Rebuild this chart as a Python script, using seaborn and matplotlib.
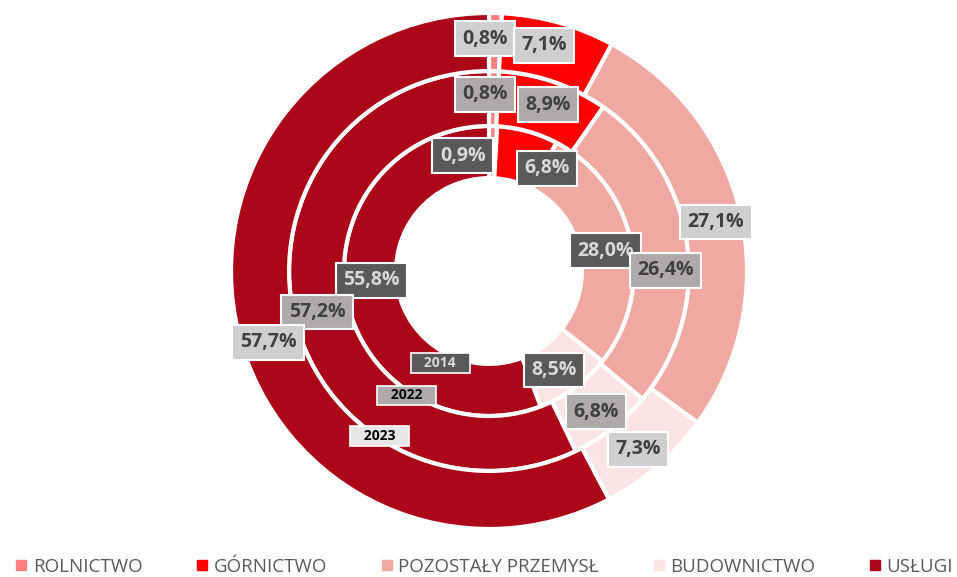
import numpy as np
import seaborn as sns
import matplotlib.pyplot as plt
from matplotlib.lines import Line2D

categories = ["ROLNICTWO", "GÓRNICTWO", "POZOSTAŁY PRZEMYSŁ", "BUDOWNICTWO", "USŁUGI"]
years = ["2014", "2022", "2023"]
share_2014 = [0.9, 6.8, 28.0, 8.5, 55.8]
share_2022 = [0.8, 8.9, 26.4, 6.8, 57.2]
share_2023 = [0.8, 7.1, 27.1, 7.3, 57.7]

sns.set_theme(style="white")
plt.rcParams['font.family'] = ['Open Sans', 'DejaVu Sans']

colors = ["#FF8080", "#FF0000", "#F0A8A2", "#FCE4E4", "#AB0718"]

# ring geometry (radius 1 = outer edge)
rings = [
    # values, outer r, width, label r, box color, text color, label angle nudges (deg)
    (share_2014, 0.562, 0.202, 0.458, "#595959", "#D9D9D9", [-14.5, 14.0, 2.0, 3.0, 6.0]),
    (share_2022, 0.775, 0.213, 0.685, "#AEAAAA", "#404040", [-2.7, 0.7, 7.3, 0.5, -0.8]),
    (share_2023, 1.0, 0.225, 0.9, "#D0CECE", "#404040", [-2.4, -2.0, 0.6, 1.0, -4.0]),
]
year_box = [("#595959", "#D9D9D9"), ("#AEAAAA", "black"), ("#E7E6E6", "black")]
year_pos = [(0.403, 208), (0.578, 213.5), (0.768, 213.5)]

fig = plt.figure(figsize=(9.57, 5.77), dpi=100)
cx, cy, R = 489, 271, 258
ax = fig.add_axes([(cx - R) / 957, (577 - cy - R) / 577, 2 * R / 957, 2 * R / 577])

for i, (vals, r_out, w, r_lab, bc, tc, nudge) in enumerate(rings):
    ax.pie(vals, radius=r_out, startangle=90, counterclock=False, colors=colors,
           wedgeprops=dict(width=w, edgecolor="white", linewidth=3))
    cum = np.cumsum([0] + vals[:-1])
    for j, v in enumerate(vals):
        ang = (cum[j] + v / 2) / 100 * 360 + nudge[j]
        t = np.deg2rad(ang)
        ax.text(r_lab * np.sin(t), r_lab * np.cos(t), f"{v:.1f}%".replace(".", ","),
                ha="center", va="center", fontsize=14, fontweight="bold", color=tc,
                bbox=dict(boxstyle="square,pad=0.38", facecolor=bc, edgecolor="white", linewidth=1.5))
    # year label
    yr, ya = year_pos[i]
    t = np.deg2rad(ya)
    yb, yt = year_box[i]
    ax.text(yr * np.sin(t), yr * np.cos(t), f"   {years[i]}   ",
            ha="center", va="center", fontsize=10, fontweight="bold", color=yt,
            bbox=dict(boxstyle="square,pad=0.2", facecolor=yb, edgecolor="white", linewidth=1.2),
            zorder=5)

ax.set_xlim(-1, 1)
ax.set_ylim(-1, 1)
ax.set_aspect("auto")
ax.axis("off")

handles = [Line2D([0], [0], marker="s", linestyle="", markersize=7, markerfacecolor=c,
                  markeredgecolor=c) for c in colors]
fig.legend(handles, categories, loc="center", bbox_to_anchor=(0.505, 1 - 567 / 577), ncol=5,
           frameon=False, fontsize=13.5, labelcolor="#595959", handletextpad=0.2,
           columnspacing=2.8, handlelength=0.8)

fig.savefig("out.png", dpi=100)
